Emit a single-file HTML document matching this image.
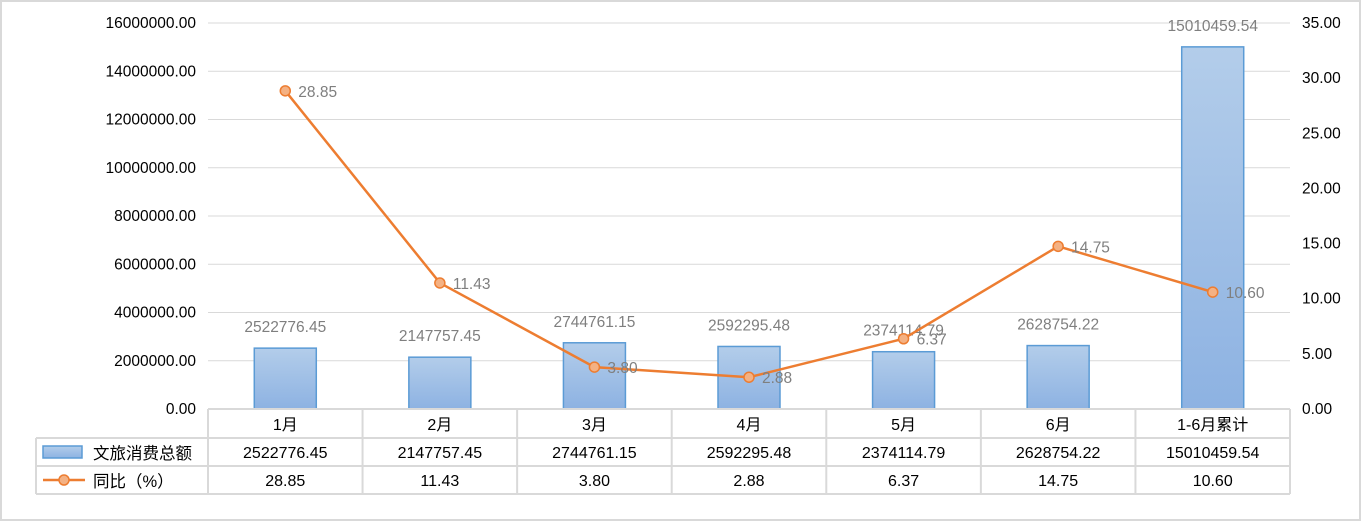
<!DOCTYPE html>
<html><head><meta charset="utf-8"><style>
body{margin:0;background:#fff}
svg{display:block;font-family:"Liberation Sans","Noto Sans CJK SC",sans-serif}
</style></head><body>
<svg id="c" width="1361" height="521">
<defs><linearGradient id="g" x1="0" y1="0" x2="0" y2="1"><stop offset="0" stop-color="#b3cdea"/><stop offset="1" stop-color="#8db2e2"/></linearGradient></defs>
<rect x="1" y="1" width="1359" height="519" fill="#fff" stroke="#d9d9d9" stroke-width="2"/>
<g id="grid"></g><g id="marks"></g><g id="tbl"></g>
</svg>
<script>
const categories=["1月","2月","3月","4月","5月","6月","1-6月累计"];
const amounts=[2522776.45,2147757.45,2744761.15,2592295.48,2374114.79,2628754.22,15010459.54];
const amountLabels=["2522776.45","2147757.45","2744761.15","2592295.48","2374114.79","2628754.22","15010459.54"];
const yoy=[28.85,11.43,3.80,2.88,6.37,14.75,10.60];
const yoyLabels=["28.85","11.43","3.80","2.88","6.37","14.75","10.60"];
const leftTicks=[0,2000000,4000000,6000000,8000000,10000000,12000000,14000000,16000000];
const rightTicks=[0,5,10,15,20,25,30,35];
const NS="http://www.w3.org/2000/svg";
const X0=208,X1=1290,Y0=409,Y1=23;
const cw=(X1-X0)/categories.length;
const xc=i=>X0+cw*(i+0.5);
const yl=v=>Y0-(v/16000000)*(Y0-Y1);
const yr=v=>Y0-(v/35)*(Y0-Y1);
function el(p,t,a,txt){const e=document.createElementNS(NS,t);for(const k in a)e.setAttribute(k,a[k]);if(txt!=null)e.textContent=txt;document.getElementById(p).appendChild(e);return e;}
leftTicks.forEach(v=>{
 const l=el('grid','line',{x1:X0,x2:X1,y1:yl(v),y2:yl(v),stroke:'#d9d9d9','stroke-width':1});
 
 
 const t=el('grid','text',{x:196,y:yl(v)+5,'text-anchor':'end','font-size':15.5,fill:'#000'},v.toFixed(2));
 
 
});
rightTicks.forEach(v=>{
 const t=el('grid','text',{x:1302,y:yr(v)+5,'font-size':15.5,fill:'#000'},v.toFixed(2));
 
 
});
amounts.forEach((v,i)=>{
 const b=el('marks','rect',{x:xc(i)-31,y:yl(v),width:62,height:Y0-yl(v),fill:'url(#g)',stroke:'#5b9bd5','stroke-width':1.5});
 
 
 const t=el('marks','text',{x:xc(i),y:yl(v)-16,'text-anchor':'middle','font-size':15.5,fill:'#7f7f7f'},amountLabels[i]);
 
 
});
const pl=el('marks','polyline',{points:yoy.map((v,i)=>xc(i)+','+yr(v)).join(' '),fill:'none',stroke:'#ed7d31','stroke-width':2.5});


yoy.forEach((v,i)=>{
 const c=el('marks','circle',{cx:xc(i),cy:yr(v),r:5,fill:'#f4b183',stroke:'#ed7d31','stroke-width':1.5});
 
 
 const t=el('marks','text',{x:xc(i)+13,y:yr(v)+6,'font-size':15.5,fill:'#7f7f7f'},yoyLabels[i]);
 
 
});
// table
const TL=36,rows=[409,438,466,494],G='#d9d9d9';
let a=el('tbl','line',{x1:X0,x2:X1,y1:409,y2:409,stroke:G,'stroke-width':2});

[438,466,494].forEach(y=>{const l=el('tbl','line',{x1:TL,x2:X1,y1:y,y2:y,stroke:G,'stroke-width':2});});
el('tbl','line',{x1:TL,x2:TL,y1:438,y2:494,stroke:G,'stroke-width':2});
for(let i=0;i<=categories.length;i++){const x=X0+cw*i;const l=el('tbl','line',{x1:x,x2:x,y1:409,y2:494,stroke:G,'stroke-width':2});}
categories.forEach((c,i)=>{
 let t=el('tbl','text',{x:xc(i),y:430,'text-anchor':'middle','font-size':16,fill:'#000'},c);
 
 t=el('tbl','text',{x:xc(i),y:458,'text-anchor':'middle','font-size':16,fill:'#000'},amountLabels[i]);
 
 t=el('tbl','text',{x:xc(i),y:486,'text-anchor':'middle','font-size':16,fill:'#000'},yoyLabels[i]);
 
});
let k=el('tbl','rect',{x:43,y:446,width:39,height:12,fill:'url(#g)',stroke:'#5b9bd5','stroke-width':1.5});

k=el('tbl','text',{x:93,y:459,'font-size':16.5,fill:'#000'},'文旅消费总额');

k=el('tbl','line',{x1:43,x2:85,y1:480,y2:480,stroke:'#ed7d31','stroke-width':2.5});

k=el('tbl','circle',{cx:64,cy:480,r:5,fill:'#f4b183',stroke:'#ed7d31','stroke-width':1.5});

k=el('tbl','text',{x:93,y:487,'font-size':16.5,fill:'#000'},'同比（%）');

</script>
</body></html>
